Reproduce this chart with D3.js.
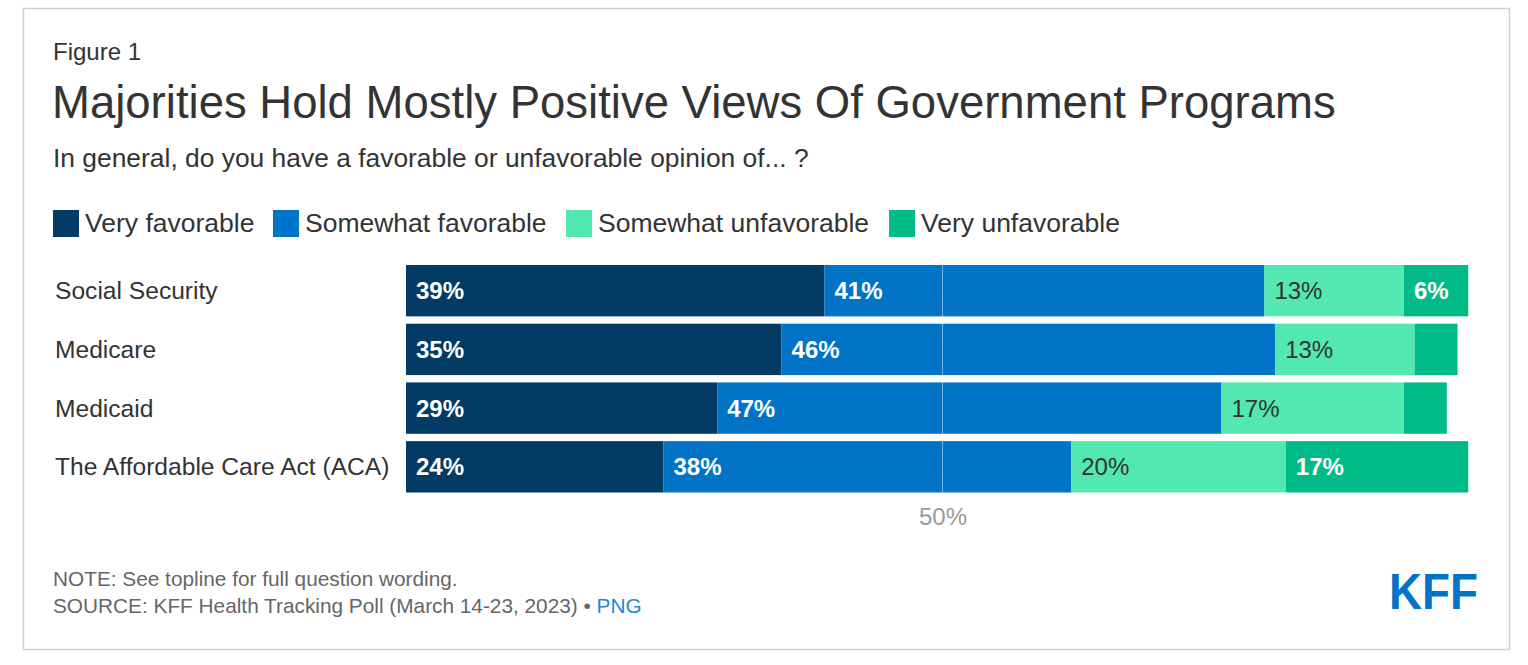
<!DOCTYPE html>
<html>
<head>
<meta charset="utf-8">
<script src="https://cdn.jsdelivr.net/npm/d3@7"></script>
<style>
  html, body { margin: 0; padding: 0; background: #fff; }
  svg text { font-family: "Liberation Sans", Arial, sans-serif; }
</style>
</head>
<body>
<svg id="chart" width="1528" height="665"></svg>
<script>
// data
var categories = ['Social Security', 'Medicare', 'Medicaid', 'The Affordable Care Act (ACA)'];
var seriesNames = ['Very favorable', 'Somewhat favorable', 'Somewhat unfavorable', 'Very unfavorable'];
var veryFavorable = [39, 35, 29, 24];
var somewhatFavorable = [41, 46, 47, 38];
var somewhatUnfavorable = [13, 13, 17, 20];
var veryUnfavorable = [6, 4, 4, 17];
var gridTicks = [50];

var colors = ['#023b64', '#0174c8', '#52e8b0', '#00bb87'];
var labelColors = ['#fff', '#fff', '#333', '#fff'];

var svg = d3.select('#chart');

// frame
svg.append('rect')
    .attr('x', 23.5).attr('y', 8.5)
    .attr('width', 1486).attr('height', 641)
    .attr('fill', '#fff')
    .attr('stroke', '#d0d0d0')
    .attr('stroke-width', 1.5);

// headings
svg.append('text').attr('x', 53).attr('y', 60)
    .attr('font-size', 24).attr('fill', '#333').text('Figure 1');
svg.append('text').attr('x', 52).attr('y', 118)
    .attr('font-size', 45.5).attr('fill', '#333')
    .text('Majorities Hold Mostly Positive Views Of Government Programs');
svg.append('text').attr('x', 53).attr('y', 167)
    .attr('font-size', 26.4).attr('fill', '#333')
    .text('In general, do you have a favorable or unfavorable opinion of... ?');

// legend
var legendX = [53, 273, 566, 889];
var legend = svg.append('g').attr('class', 'legend')
    .selectAll('g').data(seriesNames).enter().append('g')
    .attr('transform', function(d, i) { return 'translate(' + legendX[i] + ',210)'; });
legend.append('rect')
    .attr('width', 26).attr('height', 27)
    .attr('fill', function(d, i) { return colors[i]; });
legend.append('text')
    .attr('x', 32).attr('y', 22)
    .attr('font-size', 26.5).attr('fill', '#333')
    .text(function(d) { return d; });

// scales
var x = d3.scaleLinear().domain([0, 100]).range([406, 1479]);
var y = d3.scaleBand().domain(categories).range([265, 492.5]).paddingInner(0.125);

var rows = categories.map(function(c, i) {
  return { category: c, values: [veryFavorable[i], somewhatFavorable[i], somewhatUnfavorable[i], veryUnfavorable[i]] };
});
var stack = d3.stack().keys([0, 1, 2, 3]).value(function(d, k) { return d.values[k]; });
var layers = stack(rows);

// category labels
svg.append('g').selectAll('text').data(categories).enter().append('text')
    .attr('x', 55)
    .attr('y', function(d) { return y(d) + y.bandwidth() / 2; })
    .attr('dy', '0.35em')
    .attr('font-size', 24.6).attr('fill', '#333')
    .text(function(d) { return d; });

// bars
var layer = svg.append('g').attr('class', 'bars')
    .selectAll('g.layer').data(layers).enter().append('g')
    .attr('class', 'layer')
    .attr('fill', function(d, i) { return colors[i]; });

layer.selectAll('rect').data(function(d) { return d; }).enter().append('rect')
    .attr('x', function(d) { return x(d[0]); })
    .attr('y', function(d) { return y(d.data.category); })
    .attr('width', function(d) { return x(d[1]) - x(d[0]); })
    .attr('height', y.bandwidth());

// 50% gridline on top of the bars
svg.append('g').selectAll('line').data(gridTicks).enter().append('line')
    .attr('x1', function(d) { return x(d); })
    .attr('x2', function(d) { return x(d); })
    .attr('y1', y.range()[0])
    .attr('y2', y.range()[1])
    .attr('stroke', '#fff').attr('stroke-opacity', 0.45).attr('stroke-width', 1);

// value labels
layers.forEach(function(l, k) {
  svg.append('g').selectAll('text')
      .data(l.filter(function(d) { return d[1] - d[0] >= 5; }))
      .enter().append('text')
      .attr('x', function(d) { return x(d[0]) + 10; })
      .attr('y', function(d) { return y(d.data.category) + y.bandwidth() / 2; })
      .attr('dy', '0.36em')
      .attr('font-size', 24)
      .attr('font-weight', k === 2 ? 'normal' : 'bold')
      .attr('fill', labelColors[k])
      .text(function(d) { return (d[1] - d[0]) + '%'; });
});

// axis (only the 50% tick label)
var axis = d3.axisBottom(x).tickValues(gridTicks).tickSize(0).tickPadding(15)
    .tickFormat(function(d) { return d + '%'; });
var axisG = svg.append('g').attr('transform', 'translate(0,' + y.range()[1] + ')').call(axis);
axisG.select('.domain').remove();
axisG.selectAll('text')
    .attr('font-family', '"Liberation Sans", Arial, sans-serif')
    .attr('font-size', 24).attr('fill', '#999');

// notes
svg.append('text').attr('x', 53).attr('y', 586)
    .attr('font-size', 20.8).attr('fill', '#666')
    .text('NOTE: See topline for full question wording.');
var src = svg.append('text').attr('x', 53).attr('y', 613)
    .attr('font-size', 20.8).attr('fill', '#666');
src.append('tspan').text('SOURCE: KFF Health Tracking Poll (March 14-23, 2023) \u2022 ');
src.append('tspan').attr('fill', '#1a8ad4').text('PNG');

// logo
svg.append('text').attr('x', 1389).attr('y', 609)
    .attr('font-size', 50).attr('font-weight', 'bold').attr('fill', '#0174c8')
    .attr('textLength', 89).attr('lengthAdjust', 'spacingAndGlyphs')
    .text('KFF');
</script>
</body>
</html>
